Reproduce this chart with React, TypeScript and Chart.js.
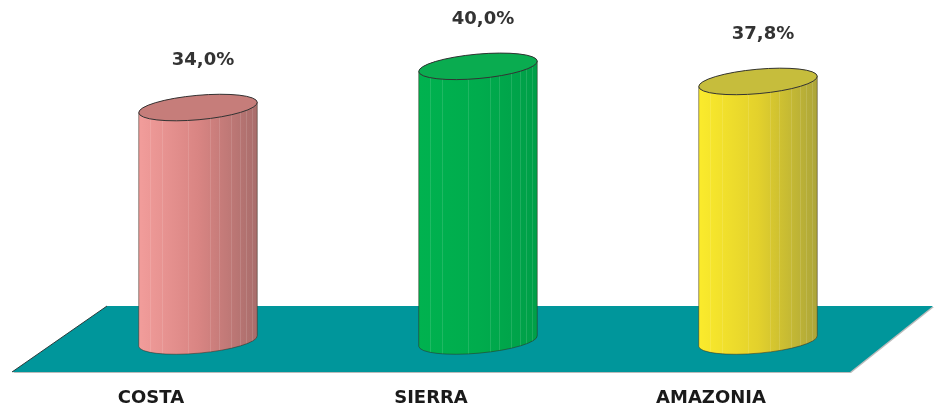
import React, { useEffect, useRef } from "react";
import { Chart, registerables } from "chart.js";

Chart.register(...registerables);

const categories = ["COSTA", "SIERRA", "AMAZONIA"];
const values = [34.0, 40.0, 37.8];
const valueLabels = ["34,0%", "40,0%", "37,8%"];
const sideGradients = [
  ["#f29d9b", "#d98583", "#a86d6b"],
  ["#00b24f", "#00ac4d", "#009f48"],
  ["#fbeb2c", "#e3d12c", "#aca53a"],
];
const topColors = ["#c67d7a", "#0aac50", "#c6bd3c"];
const floorColor = "#00969b";

const FONT = "'DejaVu Sans', 'Liberation Sans', Arial, sans-serif";

const cylinderPlugin = {
  id: "cylinders",
  beforeDatasetsDraw(chart: any) {
    const { ctx, chartArea } = chart;
    const y0 = chart.scales.y.getPixelForValue(0);
    ctx.save();
    // shadow
    ctx.beginPath();
    ctx.moveTo(chartArea.left + 50, y0 - 34);
    ctx.lineTo(chartArea.right + 36, y0 - 34);
    ctx.lineTo(chartArea.right - 47, y0 + 32);
    ctx.lineTo(chartArea.left - 45, y0 + 32);
    ctx.closePath();
    ctx.fillStyle = "rgba(120,120,120,0.5)";
    ctx.fill();
    // floor
    ctx.beginPath();
    ctx.moveTo(chartArea.left + 49, y0 - 35);
    ctx.lineTo(chartArea.right + 35, y0 - 35);
    ctx.lineTo(chartArea.right - 48, y0 + 31);
    ctx.lineTo(chartArea.left - 46, y0 + 31);
    ctx.closePath();
    ctx.fillStyle = floorColor;
    ctx.fill();
    ctx.beginPath();
    ctx.moveTo(chartArea.left + 49, y0 - 35);
    ctx.lineTo(chartArea.left - 46, y0 + 31);
    ctx.strokeStyle = "#2a3a3a";
    ctx.lineWidth = 1;
    ctx.stroke();
    ctx.restore();
  },
  afterDatasetsDraw(chart: any) {
    const { ctx } = chart;
    const meta = chart.getDatasetMeta(0);
    const r = -0.09;
    meta.data.forEach((bar: any, i: number) => {
      const { x, y, base, width } = bar.getProps(["x", "y", "base", "width"], true);
      const a = width / 2;
      const b = a * 0.205;
      ctx.save();
      // body
      ctx.beginPath();
      ctx.ellipse(x, base, a, b, r, Math.PI, 0, true);
      ctx.ellipse(x, y, a, b, r, 0, Math.PI, true);
      ctx.closePath();
      const g = ctx.createLinearGradient(x - a, 0, x + a, 0);
      const cols = sideGradients[i];
      g.addColorStop(0, cols[0]);
      g.addColorStop(0.5, cols[1]);
      g.addColorStop(1, cols[2]);
      ctx.fillStyle = g;
      ctx.fill();
      // streaks
      ctx.save();
      ctx.clip();
      ctx.strokeStyle = "rgba(255,255,255,0.12)";
      ctx.lineWidth = 1;
      [0.1, 0.2, 0.42, 0.6, 0.68, 0.78, 0.85, 0.9, 0.95].forEach((f) => {
        const lx = Math.round(x - a + f * 2 * a) + 0.5;
        ctx.beginPath();
        ctx.moveTo(lx, y - 20);
        ctx.lineTo(lx, base + 20);
        ctx.stroke();
      });
      ctx.restore();
      // bottom outline
      ctx.beginPath();
      ctx.moveTo(x - a * Math.cos(r), y - a * Math.sin(r));
      ctx.ellipse(x, base, a, b, r, Math.PI, 0, true);
      ctx.lineTo(x + a * Math.cos(r), y + a * Math.sin(r));
      ctx.strokeStyle = "rgba(50,40,30,0.5)";
      ctx.lineWidth = 1;
      ctx.stroke();
      // top
      ctx.beginPath();
      ctx.ellipse(x, y, a, b, r, 0, Math.PI * 2);
      ctx.fillStyle = topColors[i];
      ctx.fill();
      ctx.strokeStyle = "#333333";
      ctx.lineWidth = 1;
      ctx.stroke();
      // value label
      ctx.fillStyle = "#333333";
      ctx.font = `bold 18px ${FONT}`;
      ctx.textAlign = "center";
      ctx.textBaseline = "middle";
      ctx.fillText(valueLabels[i], x + 5, y - 47);
      // category label
      ctx.fillStyle = "#1a1a1a";
      ctx.fillText(categories[i], x - 47, base + 57);
      ctx.restore();
    });
  },
};

export default function App() {
  const ref = useRef<HTMLCanvasElement | null>(null);
  useEffect(() => {
    document.body.style.margin = "0";
    const canvas = ref.current!;
    const chart = new Chart(canvas, {
      type: "bar",
      data: {
        labels: categories,
        datasets: [
          {
            data: values,
            backgroundColor: "rgba(0,0,0,0)",
            borderWidth: 0,
            barPercentage: 0.425,
            categoryPercentage: 1,
          },
        ],
      },
      options: {
        responsive: false,
        animation: false,
        layout: { padding: { left: 58, right: 37, top: 32, bottom: 68 } },
        plugins: { legend: { display: false }, tooltip: { enabled: false } },
        scales: {
          x: { display: false, offset: true },
          y: { display: false, min: 0, max: 45 },
        },
      },
      plugins: [cylinderPlugin],
    });
    return () => chart.destroy();
  }, []);
  return (
    <div style={{ width: 935, height: 409 }}>
      <canvas ref={ref} width={935} height={409} style={{ display: "block" }} />
    </div>
  );
}
